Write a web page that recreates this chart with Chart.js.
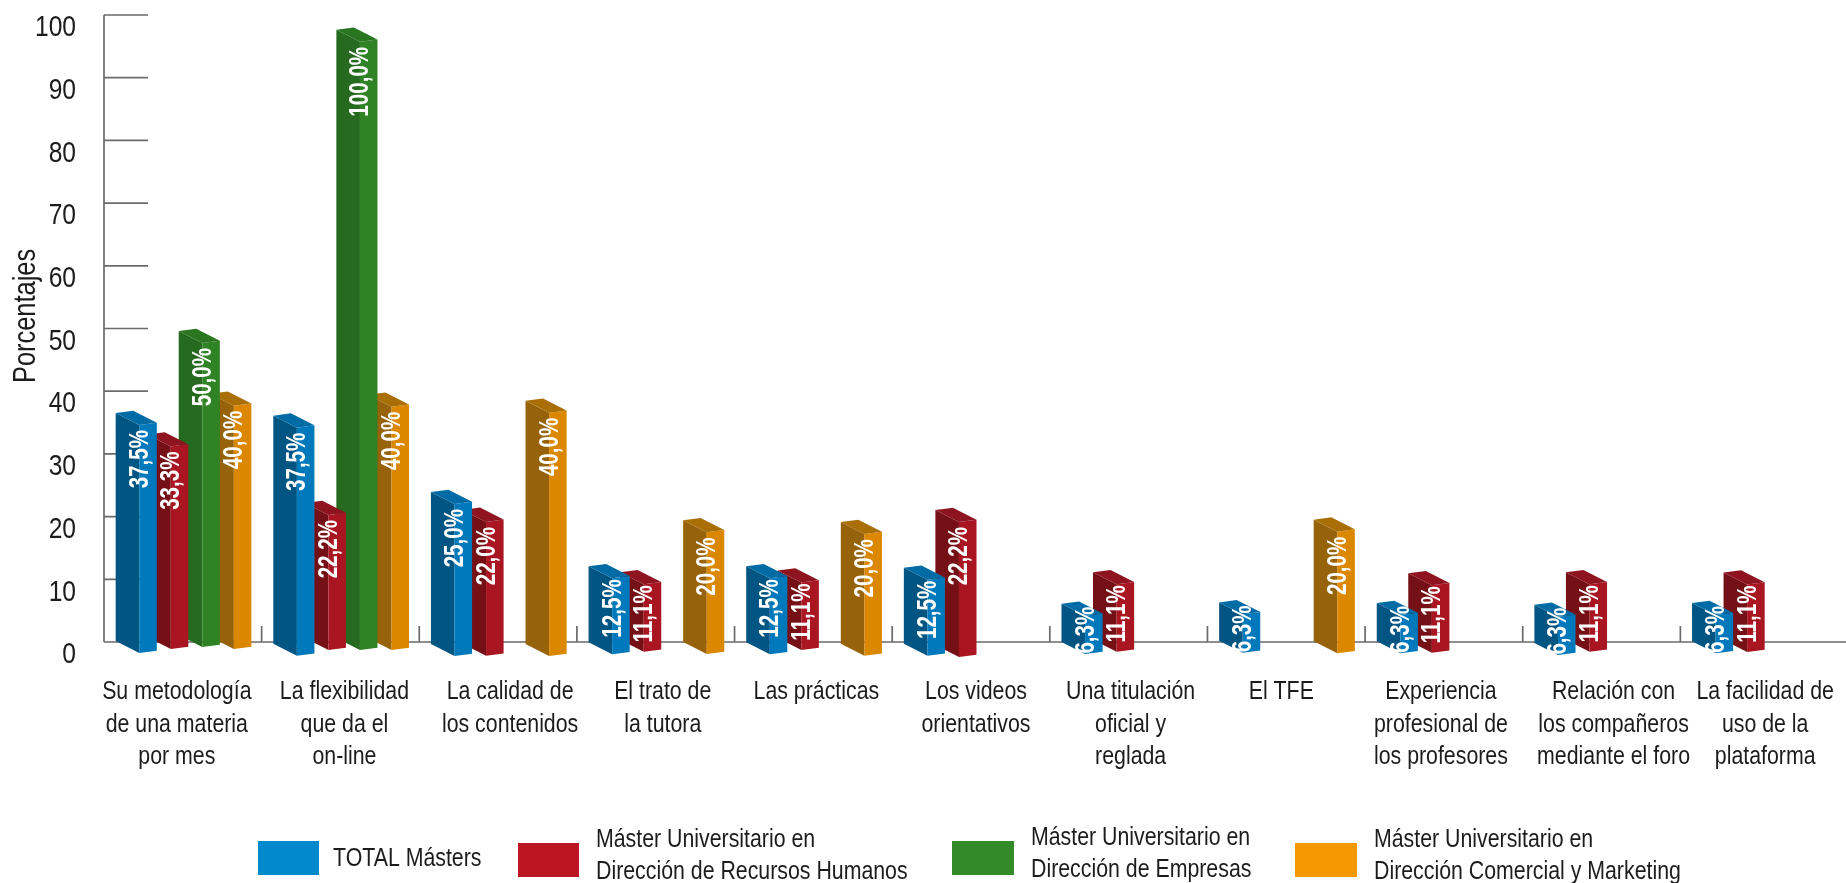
<!DOCTYPE html>
<html>
<head>
<meta charset="utf-8">
<title>Porcentajes</title>
<script src="https://cdn.jsdelivr.net/npm/chart.js@4"></script>
<style>
    html, body { margin: 0; padding: 0; background: #fff; }
    canvas { display: block; }
</style>
</head>
<body>
<canvas id="barChart" width="1846" height="883"></canvas>
<script>
// Chart data
const categories = [
    ['Su metodología', 'de una materia', 'por mes'],
    ['La flexibilidad', 'que da el', 'on-line'],
    ['La calidad de', 'los contenidos'],
    ['El trato de', 'la tutora'],
    ['Las prácticas'],
    ['Los videos', 'orientativos'],
    ['Una titulación', 'oficial y', 'reglada'],
    ['El TFE'],
    ['Experiencia', 'profesional de', 'los profesores'],
    ['Relación con', 'los compañeros', 'mediante el foro'],
    ['La facilidad de', 'uso de la', 'plataforma']
];
const totalMasters = [37.5, 37.5, 25, 12.5, 12.5, 12.5, 6.3, 6.3, 6.3, 6.3, 6.3];
const recursosHumanos = [33.3, 22.2, 22, 11.1, 11.1, 22.2, 11.1, null, 11.1, 11.1, 11.1];
const direccionEmpresas = [50, 100, null, null, null, null, null, null, null, null, null];
const comercialMarketing = [40, 40, 40, 20, 20, null, null, 20, null, null, null];
const seriesNames = [
    ['TOTAL Másters'],
    ['Máster Universitario en', 'Dirección de Recursos Humanos'],
    ['Máster Universitario en', 'Dirección de Empresas'],
    ['Máster Universitario en', 'Dirección Comercial y Marketing']
];
const axisTitle = 'Porcentajes';

const FONT = '"Liberation Sans", Arial, sans-serif';
const INK = '#1c1c1c';
const AXIS = '#6b6b6b';
const TEXT_NARROW = 0.82; // no narrow face installed, so the text is squeezed

// front, side, top and legend colour of each series
const shades = [
    { front: '#0079bc', side: '#005583', top: '#006ba5', key: '#0089cc' },
    { front: '#a91521', side: '#751116', top: '#8e1420', key: '#bc1622' },
    { front: '#2f8325', side: '#256a1e', top: '#2a7620', key: '#328a28' },
    { front: '#db8700', side: '#96620a', top: '#a96e06', key: '#f39800' }
];

// Bars are slightly shorter than the printed axis, hence the hidden second scale
const BAR_SCALE_MAX = 103.1;
const DEPTH_X = 23.6;
const DEPTH_Y = 12;
const FRONT_SLOPE = 2.3;
const FRONT_SHIFT = 12.5;

// the original was drawn by hand: small vertical drift of each bar, px per series
const barDrift = [
    [-1, 1.7, 2, 0.3, 0.3, 1.7, 0, -1.3, -0.7, 1, -0.7],
    [-5, -4, 1.7, -2.3, -4, 3, -2.3, 0, -1.3, -2.3, -2],
    [-7, -4, 0, 0, 0, 0, 0, 0, 0, 0, 0],
    [-5, -4, 2, 0, 1.7, 0, 0, -0.7, 0, 0, 0]
];
// same for the category labels, px sideways
const labelNudge = [-6, 4, 12, 7, 3, 5, 2, -5, -3, 12, 6];

function fillPoly(ctx, color, pts) {
    ctx.fillStyle = color;
    ctx.beginPath();
    pts.forEach((p, i) => i ? ctx.lineTo(p[0], p[1]) : ctx.moveTo(p[0], p[1]));
    ctx.closePath();
    ctx.fill();
}

const bars3d = {
    id: 'bars3d',
    beforeDatasetDraw(chart, args) {
        const ctx = chart.ctx;
        const c = shades[args.index];
        args.meta.data.forEach((el, i) => {
            if (chart.data.datasets[args.index].data[i] === null) return;
            const left = el.x - el.width / 2 + FRONT_SHIFT;
            const right = left + el.width;
            const drift = barDrift[args.index][i];
            const yt = el.y + drift, yb = el.base + drift;
            fillPoly(ctx, c.side, [[left - DEPTH_X, yt], [left, yt + DEPTH_Y], [left, yb + DEPTH_Y], [left - DEPTH_X, yb]]);
            fillPoly(ctx, c.front, [[left, yt + DEPTH_Y], [right, yt + DEPTH_Y - FRONT_SLOPE], [right, yb + DEPTH_Y - FRONT_SLOPE], [left, yb + DEPTH_Y]]);
            fillPoly(ctx, c.top, [[left - DEPTH_X, yt], [right - DEPTH_X, yt - FRONT_SLOPE], [right, yt + DEPTH_Y - FRONT_SLOPE], [left, yt + DEPTH_Y]]);
        });
        return false; // the faces above replace the flat bar
    },
    afterDatasetsDraw(chart) {
        const ctx = chart.ctx;
        ctx.save();
        ctx.fillStyle = '#fff';
        ctx.font = 'bold 27px ' + FONT;
        ctx.textAlign = 'right';
        ctx.textBaseline = 'middle';
        chart.data.datasets.forEach((ds, d) => {
            chart.getDatasetMeta(d).data.forEach((el, i) => {
                const v = ds.data[i];
                if (v === null) return;
                const seam = el.x - el.width / 2 + FRONT_SHIFT;
                // short bars have their label pushed up so it fits
                const gap = v < 10 ? -9 : v < 15 ? 1 : 5;
                ctx.save();
                ctx.translate(seam, el.y + barDrift[d][i] + DEPTH_Y + gap);
                ctx.rotate(-Math.PI / 2);
                ctx.scale(0.93, 1);
                ctx.fillText(v.toFixed(1).replace('.', ',') + '%', 0, 1);
                ctx.restore();
            });
        });
        ctx.restore();
    }
};

const axisMarks = {
    id: 'axisMarks',
    beforeDatasetsDraw(chart) {
        const ctx = chart.ctx;
        const area = chart.chartArea;
        const xs = chart.scales.x, ys = chart.scales.y;
        ctx.save();
        ctx.strokeStyle = AXIS;
        ctx.lineWidth = 1.7;
        ctx.beginPath();
        // y axis with its long ticks
        ctx.moveTo(area.left, ys.getPixelForValue(100));
        ctx.lineTo(area.left, ys.getPixelForValue(0));
        ys.ticks.forEach(t => {
            const y = ys.getPixelForValue(t.value);
            ctx.moveTo(area.left, y);
            ctx.lineTo(area.left + 44, y);
        });
        // baseline runs to the edge of the picture
        ctx.moveTo(area.left, area.bottom);
        ctx.lineTo(chart.width, area.bottom);
        // category separators stand up from the baseline
        categories.forEach((c, i) => {
            if (i === 0) return;
            const x = (xs.getPixelForValue(i - 1) + xs.getPixelForValue(i)) / 2;
            ctx.moveTo(x, area.bottom);
            ctx.lineTo(x, area.bottom - 16);
        });
        ctx.stroke();

        // axis title sits above the middle of the axis in the original
        ctx.translate(26, ys.getPixelForValue(52));
        ctx.rotate(-Math.PI / 2);
        ctx.font = '31px ' + FONT;
        ctx.fillStyle = INK;
        ctx.textAlign = 'center';
        ctx.textBaseline = 'middle';
        ctx.fillText(axisTitle, 0, 0);
        ctx.restore();
    }
};

// Legend is two-line and irregular, so it is drawn here from seriesNames
const legendBoxes = [[258, 841, 61], [518, 843, 61], [952, 841, 62], [1295, 843, 62]];
const legendNotes = {
    id: 'legendNotes',
    afterDraw(chart) {
        const ctx = chart.ctx;
        ctx.save();
        ctx.font = '26px ' + FONT;
        ctx.textBaseline = 'middle';
        seriesNames.forEach((lines, i) => {
            const [x, y, w] = legendBoxes[i];
            ctx.fillStyle = shades[i].key;
            ctx.fillRect(x, y, w, 34);
            ctx.fillStyle = INK;
            const tx = x + w + (i === 0 ? 14 : 17);
            if (lines.length === 1) {
                ctx.fillText(lines[0], tx, y + 18);
            } else {
                ctx.fillText(lines[0], tx, y - 3);
                ctx.fillText(lines[1], tx, y + 29);
            }
        });
        ctx.restore();
    }
};

const datasets = [totalMasters, recursosHumanos, direccionEmpresas, comercialMarketing].map((values, i) => ({
    label: seriesNames[i].join(' '),
    data: values,
    backgroundColor: shades[i].front,
    yAxisID: 'yBars',
    categoryPercentage: 0.8,
    barPercentage: 0.556
}));

const ctx = document.getElementById('barChart').getContext('2d');
const rawFillText = ctx.fillText.bind(ctx);
ctx.fillText = function (text, x, y) {
    ctx.save();
    ctx.translate(x, y);
    ctx.scale(TEXT_NARROW, 1);
    rawFillText(text, 0, 0);
    ctx.restore();
};

new Chart(ctx, {
    type: 'bar',
    data: { labels: categories, datasets: datasets },
    plugins: [axisMarks, bars3d, legendNotes],
    options: {
        responsive: false,
        animation: false,
        layout: { padding: { top: 15, right: 8, left: 0, bottom: 0 } },
        plugins: { legend: { display: false }, tooltip: { enabled: false } },
        scales: {
            x: {
                grid: { display: false, drawTicks: false },
                border: { display: false },
                ticks: {
                    autoSkip: false,
                    maxRotation: 0,
                    padding: 34,
                    color: INK,
                    font: { family: FONT, size: 26, lineHeight: 1.24 }
                },
                afterFit(scale) {
                    scale.height = 241;
                    scale.paddingLeft = scale.paddingRight = 0;
                    // nudge each label sideways, the library still draws them
                    const compute = scale._computeLabelItems;
                    scale._computeLabelItems = function (area) {
                        const items = compute.call(this, area);
                        items.forEach((it, i) => { it.options.translation[0] += labelNudge[i]; });
                        return items;
                    };
                }
            },
            y: {
                min: 0,
                max: 100,
                grid: { display: false, drawTicks: false },
                border: { display: false },
                ticks: {
                    stepSize: 10,
                    padding: 28,
                    labelOffset: 13,
                    color: INK,
                    font: { family: FONT, size: 30 }
                },
                afterFit(scale) {
                    scale.width = 104;
                    scale.paddingTop = scale.paddingBottom = 0;
                }
            },
            yBars: { min: 0, max: BAR_SCALE_MAX, display: false }
        }
    }
});
</script>
</body>
</html>
